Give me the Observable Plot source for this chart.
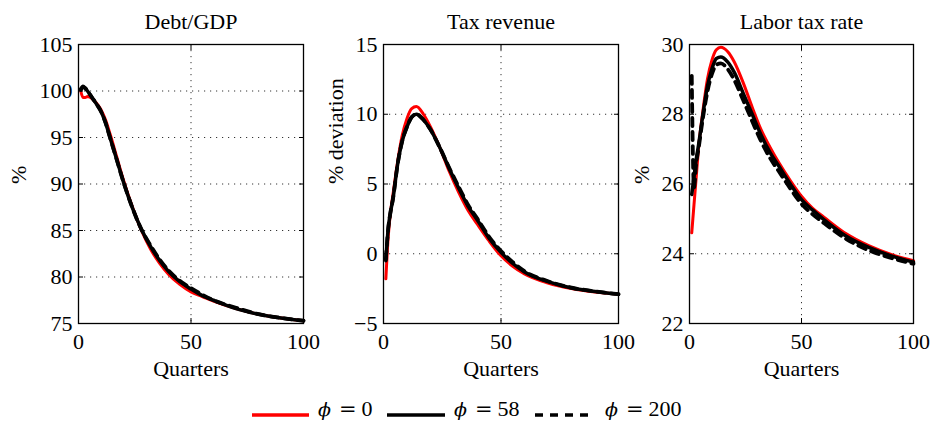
<!DOCTYPE html>
<html>
<head>
<meta charset="utf-8">
<script src="https://cdn.jsdelivr.net/npm/d3@7"></script>
<script src="https://cdn.jsdelivr.net/npm/@observablehq/plot@0.6"></script>
<style>
  body { margin: 0; background: #fff; }
  #wrap { position: relative; width: 931px; height: 421px; font-family: "Liberation Serif", serif; }
  #wrap svg text { font-family: "Liberation Serif", serif; }
  .panel { position: absolute; top: 0; }
  .leg { position: absolute; font-size: 22px; line-height: 24px; white-space: nowrap; color: #000; }
  .leg i { font-family: "DejaVu Serif", "Liberation Serif", serif; font-size: 19px; }
  .leg .eq { font-family: "DejaVu Serif", serif; font-size: 21px; margin: 0 5px 0 8px; }
  .sw { position: absolute; }
</style>
</head>
<body>
<div id="wrap"></div>
<script>
// ---- data ----
const quarters = [1, 2, 3, 4, 6, 8, 10, 12, 14, 17, 20, 24, 28, 32, 36, 40, 45, 50, 55, 60, 70, 80, 90, 100];

const debtPhi0   = [100.0, 99.3, 99.3, 99.4, 99.2, 98.7, 98.0, 96.9, 95.4, 92.9, 90.4, 87.5, 85.0, 83.0, 81.5, 80.3, 79.2, 78.4, 77.9, 77.4, 76.6, 76.0, 75.6, 75.3];
const debtPhi58  = [100.1, 100.4, 100.3, 100.0, 99.3, 98.6, 97.8, 96.6, 95.0, 92.6, 90.2, 87.4, 85.1, 83.3, 81.8, 80.6, 79.5, 78.7, 78.0, 77.5, 76.6, 76.0, 75.6, 75.3];
const debtPhi200 = [100.2, 100.5, 100.3, 100.0, 99.3, 98.6, 97.8, 96.6, 95.0, 92.6, 90.2, 87.4, 85.1, 83.4, 81.9, 80.7, 79.6, 78.8, 78.1, 77.5, 76.7, 76.0, 75.6, 75.3];

const taxPhi0   = [-1.8, 1.2, 3.0, 4.2, 6.6, 8.5, 9.7, 10.4, 10.55, 10.0, 9.1, 7.6, 5.9, 4.4, 3.1, 2.1, 0.9, -0.15, -0.9, -1.45, -2.1, -2.5, -2.75, -2.9];
const taxPhi58  = [-0.5, 1.8, 3.0, 3.9, 6.4, 8.1, 9.1, 9.8, 10.0, 9.6, 8.9, 7.6, 6.1, 4.7, 3.4, 2.4, 1.1, 0.1, -0.7, -1.3, -2.0, -2.45, -2.7, -2.9];
const taxPhi200 = [-0.4, 1.8, 3.0, 3.9, 6.4, 8.1, 9.1, 9.8, 10.0, 9.6, 8.9, 7.6, 6.15, 4.8, 3.5, 2.5, 1.2, 0.2, -0.6, -1.25, -1.97, -2.43, -2.7, -2.9];

const laborPhi0   = [24.6, 25.4, 26.2, 27.0, 28.1, 29.0, 29.55, 29.85, 29.92, 29.8, 29.5, 28.9, 28.2, 27.55, 27.05, 26.6, 26.1, 25.65, 25.3, 25.05, 24.57, 24.23, 23.98, 23.8];
const laborPhi58  = [25.7, 26.2, 26.7, 27.1, 28.0, 28.8, 29.3, 29.6, 29.64, 29.5, 29.2, 28.6, 28.0, 27.4, 26.9, 26.5, 26.0, 25.55, 25.25, 24.98, 24.5, 24.18, 23.94, 23.76];
const laborPhi200 = [29.1, 25.9, 26.6, 27.0, 27.9, 28.65, 29.15, 29.42, 29.46, 29.3, 28.98, 28.4, 27.8, 27.22, 26.74, 26.35, 25.87, 25.43, 25.13, 24.88, 24.42, 24.1, 23.88, 23.71];

const xTicks = [0, 50, 100];
const debtTicks = [75, 80, 85, 90, 95, 100, 105];
const taxTicks = [-5, 0, 5, 10, 15];
const laborTicks = [22, 24, 26, 28, 30];

const titles = ["Debt/GDP", "Tax revenue", "Labor tax rate"];
const yLabels = ["%", "% deviation", "%"];
const xLabel = "Quarters";
const seriesSymbol = "ϕ";
const seriesValues = ["0", "58", "200"];

// ---- build ----
function rows(vals) { return quarters.map((q, i) => ({q, v: vals[i]})); }

function panel(cfg) {
  const ink = "#000";
  const font = "Liberation Serif";
  return Plot.plot({
    width: cfg.width, height: 380,
    marginLeft: cfg.ml, marginRight: cfg.mr, marginTop: 44, marginBottom: 57,
    style: {fontFamily: font, fontSize: "22px", color: "#000", background: "transparent", overflow: "visible"},
    x: {domain: [0, 100]},
    y: {domain: cfg.domain},
    marks: [
      Plot.gridX(xTicks, {stroke: ink, strokeOpacity: 0.8, strokeDasharray: "1.2,4.8"}),
      Plot.gridY(cfg.ticks, {stroke: ink, strokeOpacity: 0.8, strokeDasharray: "1.2,4.8"}),
      Plot.line(rows(cfg.s[0]), {x: "q", y: "v", stroke: "#ff0000", strokeWidth: 3, curve: "monotone-x"}),
      Plot.line(rows(cfg.s[1]), {x: "q", y: "v", stroke: "#000", strokeWidth: 3.5, curve: "monotone-x"}),
      Plot.line(rows(cfg.s[2]), {x: "q", y: "v", stroke: "#000", strokeWidth: 3.8, strokeDasharray: "8,6", curve: "monotone-x"}),
      Plot.frame({stroke: ink, strokeWidth: 1.3}),
      Plot.axisX(xTicks, {tickSize: 0, tickPadding: 10, label: null, fontFamily: font}),
      Plot.axisX(xTicks, {tickSize: -5, tickFormat: () => "", label: null}),
      Plot.axisX(xTicks, {anchor: "top", tickSize: -5, tickFormat: () => "", label: null}),
      Plot.axisY(cfg.ticks, {tickSize: 0, tickPadding: 6, label: null, fontFamily: font}),
      Plot.axisY(cfg.ticks, {tickSize: -5, tickFormat: () => "", label: null}),
      Plot.axisY(cfg.ticks, {anchor: "right", tickSize: -5, tickFormat: () => "", label: null}),
      Plot.text([cfg.title], {frameAnchor: "top", lineAnchor: "middle", dy: -23, fontSize: 22, fontFamily: font}),
      Plot.text([xLabel], {frameAnchor: "bottom", lineAnchor: "middle", dy: 45, fontSize: 22, fontFamily: font}),
      Plot.text([cfg.ylabel], {frameAnchor: "left", lineAnchor: "middle", dx: -cfg.yoff, rotate: -90, fontSize: 22, fontFamily: font})
    ]
  });
}

const wrap = document.getElementById("wrap");
const cfgs = [
  {left: 0, width: 310, ml: 78, mr: 7, domain: [75, 105], ticks: debtTicks, s: [debtPhi0, debtPhi58, debtPhi200], title: titles[0], ylabel: yLabels[0], yoff: 60},
  {left: 310, width: 310, ml: 73, mr: 2, domain: [-5, 15], ticks: taxTicks, s: [taxPhi0, taxPhi58, taxPhi200], title: titles[1], ylabel: yLabels[1], yoff: 48},
  {left: 620, width: 311, ml: 69, mr: 18, domain: [22, 30], ticks: laborTicks, s: [laborPhi0, laborPhi58, laborPhi200], title: titles[2], ylabel: yLabels[2], yoff: 48}
];
for (const c of cfgs) {
  const d = document.createElement("div");
  d.className = "panel";
  d.style.left = c.left + "px";
  d.appendChild(panel(c));
  wrap.appendChild(d);
}

// ---- legend ----
const legendItems = [
  {x1: 252, x2: 309, tx: 318, color: "#ff0000", dash: null},
  {x1: 387, x2: 445, tx: 454, color: "#000", dash: null},
  {x1: 535, x2: 594, tx: 605, color: "#000", dash: "8,7"}
];
legendItems.forEach((it, i) => {
  const ns = "http://www.w3.org/2000/svg";
  const svg = document.createElementNS(ns, "svg");
  svg.setAttribute("class", "sw");
  svg.setAttribute("width", it.x2 - it.x1);
  svg.setAttribute("height", 8);
  svg.style.left = it.x1 + "px";
  svg.style.top = "411px";
  const ln = document.createElementNS(ns, "line");
  ln.setAttribute("x1", 0); ln.setAttribute("x2", it.x2 - it.x1);
  ln.setAttribute("y1", 4); ln.setAttribute("y2", 4);
  ln.setAttribute("stroke", it.color);
  ln.setAttribute("stroke-width", 3.5);
  if (it.dash) ln.setAttribute("stroke-dasharray", it.dash);
  svg.appendChild(ln);
  wrap.appendChild(svg);
  const t = document.createElement("div");
  t.className = "leg";
  t.style.left = it.tx + "px";
  t.style.top = "397px";
  t.innerHTML = "<i>" + seriesSymbol + "</i><span class=\"eq\">=</span>" + seriesValues[i];
  wrap.appendChild(t);
});
</script>
</body>
</html>
